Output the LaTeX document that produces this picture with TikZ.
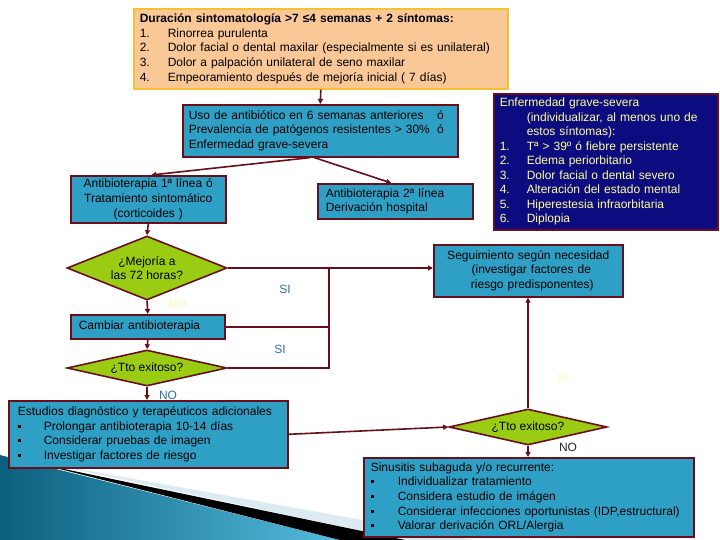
\documentclass[tikz,border=0pt]{standalone}
\usepackage{fontspec}
\setmainfont{Liberation Sans}
\usetikzlibrary{shapes.geometric,arrows.meta}
\definecolor{boxteal}{HTML}{2FA0C5}
\definecolor{maroon}{HTML}{6A0E1C}
\definecolor{peach}{HTML}{FAC896}
\definecolor{gold}{HTML}{F2C230}
\definecolor{navy}{HTML}{0C0C80}
\definecolor{lime}{HTML}{9ACC14}
\definecolor{ltyellow}{HTML}{FFFF99}
\definecolor{siblue}{HTML}{2F6FA6}
\definecolor{paleyel}{HTML}{FFF7B5}
\definecolor{paleblue}{HTML}{DCEBF1}
\definecolor{tealdark}{HTML}{0B5F7E}
\definecolor{teallight}{HTML}{55BCDC}
\newcommand{\itm}[2][28pt]{\makebox[#1][l]{#2}}
\newcommand{\bul}{\itm[26pt]{\raisebox{2.5pt}{\rule{3pt}{3pt}}}}
\begin{document}
\begin{tikzpicture}[x=1pt,y=-1pt,
  every node/.style={font=\fontsize{12}{14.6}\selectfont},
  box/.style={draw=maroon, line width=1.6pt, fill=boxteal, anchor=north west, align=left},
  dia/.style={diamond, draw=maroon, line width=1.6pt, fill=lime, inner sep=0pt, align=center},
  conn/.style={draw=maroon, line width=1.6pt},
  arr/.style={conn, -{Triangle[length=5pt,width=5pt]}},
  lbl/.style={inner sep=0pt}
]
\useasboundingbox (0,0) rectangle (720,540);
% background decoration
\fill[paleblue] (40,462) -- (473,540) -- (405,540) -- cycle;
\shade[left color=tealdark, right color=teallight] (0,455) -- (40,465) -- (340,540) -- (0,540) -- cycle;
\fill[black] (40,464) -- (405,540) -- (340,540) -- cycle;

% top box
\node[box, draw=gold, fill=peach, minimum width=374pt, minimum height=80pt, text width=362pt, inner xsep=6pt, inner ysep=0pt] (top) at (133,8)
{\textbf{Duración sintomatología >7 ≤4 semanas + 2 síntomas:}\\
\itm{1.}Rinorrea  purulenta\\
\itm{2.}Dolor facial o dental maxilar (especialmente si es unilateral)\\
\itm{3.}Dolor a palpación unilateral de seno maxilar\\
\itm{4.}Empeoramiento después de mejoría inicial ( 7 días)};

% box 2
\node[box, minimum width=275pt, minimum height=52pt, text width=263pt, inner xsep=6pt, inner ysep=0pt] (b2) at (182,104)
{\makebox[255pt][l]{Uso de antibiótico en 6 semanas anteriores\hfill ó}\\
\makebox[255pt][l]{Prevalencia de patógenos resistentes > 30\%\hfill ó}\\
Enfermedad grave-severa};

% box 3
\node[box, minimum width=155pt, minimum height=47pt, text width=147pt, inner xsep=4pt, inner ysep=0pt, align=center] (b3) at (70,175)
{Antibioterapia 1ª línea ó\\Tratamiento sintomático\\(corticoides )};

% box 4
\node[box, minimum width=155pt, minimum height=35pt, text width=139pt, inner xsep=8pt, inner ysep=0pt] (b4) at (317,183)
{Antibioterapia 2ª línea\\Derivación hospital};

% box 5 (navy)
\node[box, fill=navy, text=ltyellow, minimum width=224pt, minimum height=136pt, text width=212pt, inner xsep=6pt, inner ysep=0pt,
  font=\fontsize{12}{14.5}\selectfont] (b5) at (493,93)
{Enfermedad grave-severa\\
\hspace*{27pt}(individualizar, al menos uno de\\
\hspace*{27pt}estos síntomas):\\
\itm[27pt]{1.}Tª > 39º ó fiebre persistente\\
\itm[27pt]{2.}Edema periorbitario\\
\itm[27pt]{3.}Dolor facial o dental severo\\
\itm[27pt]{4.}Alteración del estado mental\\
\itm[27pt]{5.}Hiperestesia infraorbitaria\\
\itm[27pt]{6.}Diplopia};

% diamond 1
\node[dia, aspect=2.5, minimum width=160pt, minimum height=64pt] (d1) at (147,268) {¿Mejoría a\\las 72 horas?};

% box 6
\node[box, minimum width=189pt, minimum height=52pt, text width=181pt, inner xsep=4pt, inner ysep=0pt, align=center] (b6) at (433,244)
{Seguimiento según necesidad\\\hspace*{6pt}(investigar factores de\\\hspace*{8pt}riesgo predisponentes)};

% Cambiar
\node[box, minimum width=154pt, minimum height=24pt, text width=138pt, inner xsep=8pt, inner ysep=0pt] (cb) at (70,314)
{Cambiar antibioterapia};

% diamond 2
\node[dia, aspect=4.44, minimum width=160pt, minimum height=36pt] (d2) at (147,368) {¿Tto exitoso?};

% box 7
\node[box, minimum width=279pt, minimum height=67pt, text width=261pt, inner xsep=9pt, inner ysep=0pt] (b7) at (8,400)
{Estudios diagnóstico y terapéuticos adicionales\\
\bul Prolongar  antibioterapia 10-14 días\\
\bul Considerar pruebas de imagen\\
\bul Investigar factores de riesgo};

% diamond 3
\node[dia, aspect=4.39, minimum width=158pt, minimum height=36pt] (d3) at (528,427) {¿Tto exitoso?};

% box 8
\node[box, minimum width=330pt, minimum height=79pt, text width=316pt, inner xsep=7pt, inner ysep=0pt] (b8) at (363,457)
{Sinusitis subaguda y/o recurrente:\\
\itm[27pt]{\raisebox{2.5pt}{\rule{3pt}{3pt}}}Individualizar tratamiento\\
\itm[27pt]{\raisebox{2.5pt}{\rule{3pt}{3pt}}}Considera estudio de imágen\\
\itm[27pt]{\raisebox{2.5pt}{\rule{3pt}{3pt}}}Considerar infecciones oportunistas (IDP,estructural)\\
\itm[27pt]{\raisebox{2.5pt}{\rule{3pt}{3pt}}}Valorar derivación ORL/Alergia};

% junction coordinates
\coordinate (j1) at (329,268);
\coordinate (j2) at (329,326);

% connectors
\draw[arr] (top.south) -- (b2.north);
\draw[arr] ([xshift=-10pt]b2.south) -- ([xshift=3pt]b3.north);
\draw[arr] ([xshift=-6pt]b2.south) -- ([xshift=-4pt]b4.north);
\draw[arr] (b3.south) -- (d1.north);
\draw[arr] (d1.east) -- (d1.east -| b6.west);
\draw[conn] (d2.east) -- (d2.east -| j1) -- (j2);
\draw[conn, line width=2.6pt] (j2) -- (j1);
\draw[conn] (cb.east) -- (cb.east -| j1);
\draw[arr] (d1.south) -- (cb.north);
\draw[arr] (cb.south) -- (d2.north);
\draw[arr] (d2.south) -- (b7.north -| d2.south);
\draw[arr] (b7.east) -- (d3.west);
\draw[arr] (d3.north) -- (d3.north |- b6.south);
\draw[arr] (d3.south) -- (d3.south |- b8.north);

% labels
\node[lbl, text=siblue] (si1) at (285,289) {SI};
\node[lbl, text=siblue] (si2) at (280,349) {SI};
\node[lbl, text=paleyel] (no1) at (177,304) {NO};
\node[lbl, text=paleyel] (si3) at (563,378) {SI};
\node[lbl, text=siblue] (no2) at (168,395) {NO};
\node[lbl, text=black!85] (no3) at (568,447) {NO};
\end{tikzpicture}
\end{document}
